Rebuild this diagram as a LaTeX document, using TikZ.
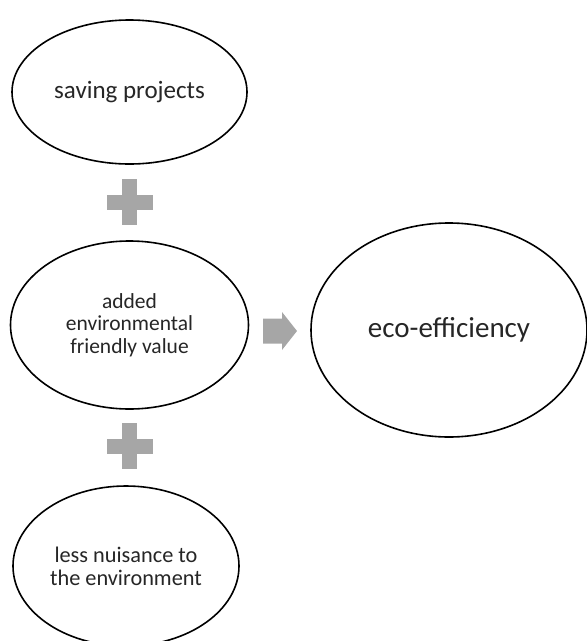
\documentclass[tikz,border=0pt]{standalone}
\usepackage{fontspec}
\setmainfont{Carlito}
\usetikzlibrary{positioning,shapes.geometric}
\definecolor{signgray}{RGB}{166,166,166}

\begin{document}
\begin{tikzpicture}[x=1pt,y=-1pt,thick,
    idea node/.style={ellipse,draw,line width=1.6pt,inner sep=0pt,align=center,text=black!85},
    bar/.style={rectangle,fill=signgray,inner sep=0pt,minimum width=46pt,minimum height=15pt}]

            \useasboundingbox (0,0) rectangle (587,641);

            \node[idea node, minimum width=235pt, minimum height=144pt,
                  font=\fontsize{25}{27}\selectfont] (saving) at (129.5,92) {saving projects};
            \node[bar] (plus1) [below of = saving, node distance=110pt]{};
            \node[bar, rotate=90] at (plus1) {};
            \node[idea node, minimum width=238pt, minimum height=168pt,
                  font=\fontsize{21.5}{22.7}\selectfont] (added) [below of = plus1, node distance=123pt]
                  {added\\environmental\\friendly value};
            \node[bar] (plus2) [below of = added, node distance=121pt]{};
            \node[bar, rotate=90] at (plus2) {};
            \node[idea node, minimum width=226pt, minimum height=160pt,
                  font=\fontsize{22.3}{22.7}\selectfont] (less) at (126,566)
                  {less nuisance to\\the environment};

            \node[idea node, minimum width=276pt, minimum height=214pt,
                  font=\fontsize{29}{31}\selectfont] (eco) at (449,330) {eco-efficiency};

            % arrow between the two columns
            \coordinate (arrow) at (280,331);
            \fill[signgray] ([shift={(-17,-12.5)}]arrow) -- ([shift={(2,-12.5)}]arrow)
                -- ([shift={(2,-19)}]arrow) -- ([shift={(17,0)}]arrow) -- ([shift={(2,19)}]arrow)
                -- ([shift={(2,12.5)}]arrow) -- ([shift={(-17,12.5)}]arrow) -- cycle;

        \end{tikzpicture}
\end{document}
